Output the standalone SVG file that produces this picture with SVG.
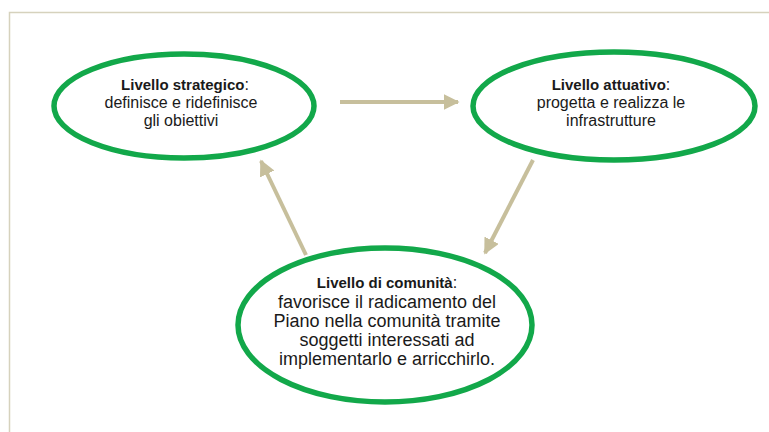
<svg xmlns="http://www.w3.org/2000/svg" width="769" height="432" viewBox="0 0 769 432">
<style>
.node{fill:none;stroke:#12a84a;stroke-width:5.5}
.t{font-family:"Liberation Sans",Arial,sans-serif;font-size:16px;fill:#1a1a1a;text-anchor:middle}
.big{font-size:18px}
.b{font-weight:bold;font-size:15px}
.con{stroke:#c7bf9c;stroke-width:4;fill:none;marker-end:url(#ah)}
</style>
<defs>
<marker id="ah" viewBox="0 0 10 10" refX="9" refY="5" markerWidth="4" markerHeight="4" orient="auto" markerUnits="strokeWidth">
<path d="M0,0 L10,5 L0,10 z" fill="#c7bf9c"/>
</marker>
</defs>
<rect x="0" y="0" width="769" height="432" fill="#ffffff"/>
<path d="M9.5,432 V12.5 H769" fill="none" stroke="#d6d2bd" stroke-width="1.5"/>
<g id="connectors">
<line class="con" x1="340" y1="102" x2="458" y2="102"/>
<line class="con" x1="533" y1="160" x2="485" y2="253"/>
<line class="con" x1="306" y1="255" x2="261" y2="161"/>
</g>
<g id="strategico">
<ellipse class="node" cx="184" cy="106" rx="130" ry="52"/>
<text class="t" x="185" y="90"><tspan class="b">Livello strategico</tspan>:</text>
<text class="t" x="181" y="108">definisce e ridefinisce</text>
<text class="t" x="181" y="126">gli obiettivi</text>
</g>
<g id="attuativo">
<ellipse class="node" cx="614" cy="106" rx="141" ry="54"/>
<text class="t" x="611" y="90"><tspan class="b">Livello attuativo</tspan>:</text>
<text class="t" x="611" y="108">progetta e realizza le</text>
<text class="t" x="611" y="126">infrastrutture</text>
</g>
<g id="comunita">
<ellipse class="node" cx="385" cy="325" rx="147" ry="77"/>
<text class="t" x="387" y="288"><tspan class="b">Livello di comunità</tspan>:</text>
<text class="t big" x="387" y="308">favorisce il radicamento del</text>
<text class="t big" x="387" y="327">Piano nella comunità tramite</text>
<text class="t big" x="387" y="346">soggetti interessati ad</text>
<text class="t big" x="387" y="365">implementarlo e arricchirlo.</text>
</g>
</svg>
